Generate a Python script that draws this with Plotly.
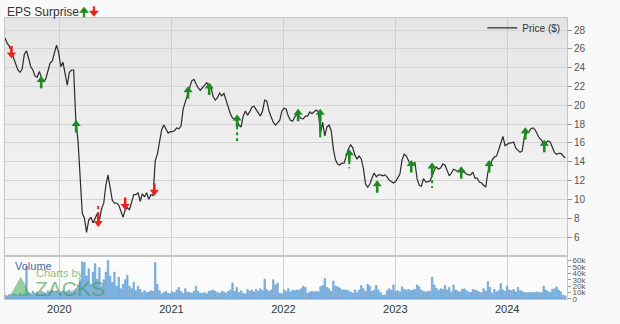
import pandas as pd
import plotly.graph_objects as go

# ---------------- data ----------------
start_date = "2019-07-08"
price = [
 27.15,26.6,26.3,25.7,24.9,24.3,23.75,23.5,23.85,25.4,
 25.8,25.0,24.1,23.75,23.1,23.0,23.6,22.9,22.5,22.8,
 23.75,24.5,24.7,25.7,26.4,25.6,24.1,24.6,23.4,22.15,
 23.5,23.75,23.75,18.4,16.3,11.8,8.55,8.0,6.5,7.8,
 8.1,7.5,8.1,8.5,7.8,9.0,9.6,11.5,12.6,11.2,
 9.9,9.6,9.6,9.4,8.65,8.1,8.9,9.1,8.9,9.7,
 10.5,10.5,10.7,9.8,10.6,10.25,10.7,10.0,10.5,10.4,
 14.1,14.8,16.1,17.4,17.9,17.4,17.05,17.2,17.2,17.3,
 17.6,17.5,17.8,19.6,20.35,21.2,21.95,22.6,22.75,22.3,
 21.85,21.6,21.9,22.15,22.4,22.05,21.9,20.9,20.55,20.8,
 21.3,21.0,21.25,20.55,19.7,19.1,18.65,18.55,18.3,17.9,
 17.7,18.85,19.4,18.95,19.3,19.8,19.9,19.5,19.1,18.85,
 19.4,20.55,20.45,19.4,18.75,18.2,17.9,18.1,18.4,19.4,
 19.7,19.6,18.85,18.4,18.3,18.75,19.05,18.85,18.6,18.55,
 18.85,18.85,19.3,19.1,19.3,19.5,19.3,17.05,18.2,16.75,
 17.7,17.9,17.3,15.35,14.2,13.75,13.65,13.85,13.85,14.7,
 15.35,15.8,15.5,14.7,14.3,14.6,14.3,13.3,11.6,11.3,
 11.6,12.3,12.8,12.4,12.6,12.6,12.5,12.6,12.4,12.05,
 11.85,11.75,11.9,12.25,12.7,14.2,14.8,14.6,14.2,13.65,
 13.8,13.9,12.2,11.5,11.4,12.2,11.85,11.85,11.95,12.6,
 13.1,13.45,13.2,13.35,13.75,13.65,13.0,12.5,12.8,13.2,
 13.1,12.95,12.95,12.9,12.9,12.7,12.6,12.6,12.9,12.25,
 12.25,11.85,11.75,11.5,11.3,12.9,13.45,14.2,14.5,14.6,
 15.25,16.1,16.7,15.7,15.9,16.0,16.0,16.1,15.45,15.25,
 15.0,15.15,16.7,17.05,17.15,17.5,17.6,17.4,16.85,16.5,
 16.3,15.9,16.0,16.2,16.1,15.55,15.0,14.8,14.9,14.9,
 14.7,14.4,
]
volume_k = [
 6,5,7,6,8,7,6,9,7,8,
 50,
 10,8,12,9,11,8,12,10,9,13,11,14,10,12,9,11,13,10,12,14,11,13,16,
 22,30,58,57,36,47,23,42,55,31,49,20,30,42,60,36,26,42,20,34,16,23,30,37,20,16,26,13,20,15,10,13,10,11,13,12,
 57,23,13,8,
 10,12,9,8,11,10,14,18,12,
 9,16,11,10,9,12,
 20,12,9,9,10,8,12,13,14,12,10,9,12,11,9,12,14,25,12,18,10,13,9,8,15,12,14,11,15,12,16,13,31,15,12,14,30,22,25,9,
 8,14,12,16,11,14,13,14,14,16,20,18,9,11,12,11,12,11,19,21,32,18,16,12,28,20,19,17,14,14,14,13,11,9,14,10,14,21,16,12,
 23,20,12,14,21,14,10,6,
 6,13,16,14,22,12,13,11,19,15,14,15,13,14,15,22,19,14,12,11,12,12,34,22,17,13,16,15,21,14,
 18,11,22,14,12,11,15,16,13,11,10,15,14,13,11,10,16,12,27,18,9,15,11,13,24,14,12,20,14,13,
 15,11,18,13,12,10,10,10,10,10,10,11,10,10,20,14,12,10,15,16,19,14,11,6,5,
]
eps_dates = ["2019-07-29", "2019-11-03", "2020-02-25", "2020-05-07", "2020-08-03",
             "2020-11-06", "2021-02-24", "2021-05-04", "2021-08-03", "2022-02-18",
             "2022-05-01", "2022-08-04", "2022-11-03", "2023-02-22", "2023-05-01",
             "2023-08-04", "2023-11-03", "2024-02-29", "2024-05-01"]
eps_levels = [25.6, 22.5, 17.8, 7.7, 9.5, 11.0, 21.4, 21.8, 18.4, 19.0,
              19.0, 14.7, 11.4, 13.55, 13.3, 12.9, 13.55, 17.05, 15.7]
eps_beat = [False, True, True, False, False, False, True, True, True, True,
            True, True, True, True, True, True, True, True, True]
eps_stem_to = [None, None, None, 9.3, None, None, None, None, 16.2, None,
               16.6, 13.3, None, None, 11.2, None, None, None, None]
eps_stem_dash = [None, None, None, "dot", None, None, None, None, "dot", None,
                 "solid", "dot", None, None, "dot", None, None, None, None]
years = ["2020", "2021", "2022", "2023", "2024"]
price_ticks = [6, 8, 10, 12, 14, 16, 18, 20, 22, 24, 26, 28]
vol_ticks_k = [0, 10, 20, 30, 40, 50, 60]

n = min(len(price), len(volume_k))
dates = pd.date_range(start_date, periods=n, freq="7D")
price = price[:n]
volume = [v * 1000 for v in volume_k[:n]]

GREEN = "#1f8a1f"
RED = "#e8231f"
FONT = "Liberation Sans, Arial, sans-serif"

fig = go.Figure()

# volume
fig.add_trace(go.Bar(x=dates, y=volume, xaxis="x2", yaxis="y2",
                     marker=dict(color="#86b9e3", line=dict(color="#4d8ecb", width=0.5)),
                     showlegend=False, name="Volume"))

# price
fig.add_trace(go.Scatter(x=dates, y=price, mode="lines", name="Price ($)",
                         line=dict(color="#2b2b2b", width=1.2), xaxis="x", yaxis="y"))

# EPS stems
for d, lv, to, dash, beat in zip(eps_dates, eps_levels, eps_stem_to, eps_stem_dash, eps_beat):
    if to is None:
        continue
    fig.add_trace(go.Scatter(x=[d, d], y=[lv, to], mode="lines", showlegend=False,
                             hoverinfo="skip",
                             line=dict(color=GREEN if beat else RED, width=2, dash=dash)))

# EPS arrows
up_d = [d for d, b in zip(eps_dates, eps_beat) if b]
up_v = [v for v, b in zip(eps_levels, eps_beat) if b]
dn_d = [d for d, b in zip(eps_dates, eps_beat) if not b]
dn_v = [v for v, b in zip(eps_levels, eps_beat) if not b]
fig.add_trace(go.Scatter(x=up_d, y=[v - 0.25 for v in up_v], mode="markers", showlegend=False,
                         hoverinfo="skip",
                         marker=dict(symbol="line-ns", size=6, line=dict(color=GREEN, width=2.6))))
fig.add_trace(go.Scatter(x=up_d, y=[v + 0.2 for v in up_v], mode="markers", showlegend=False,
                         hoverinfo="skip",
                         marker=dict(symbol="triangle-up", size=8, color=GREEN, line=dict(width=0))))
fig.add_trace(go.Scatter(x=dn_d, y=[v + 0.25 for v in dn_v], mode="markers", showlegend=False,
                         hoverinfo="skip",
                         marker=dict(symbol="line-ns", size=6, line=dict(color=RED, width=2.6))))
fig.add_trace(go.Scatter(x=dn_d, y=[v - 0.2 for v in dn_v], mode="markers", showlegend=False,
                         hoverinfo="skip",
                         marker=dict(symbol="triangle-down", size=8, color=RED, line=dict(width=0))))

# background gradient bands (decoration)
VOL_TOP = 0.153
shapes = []
nb = 24
for i in range(nb):
    y0 = VOL_TOP + (1 - VOL_TOP) * i / nb
    y1 = VOL_TOP + (1 - VOL_TOP) * (i + 1) / nb
    t = (i + 0.5) / nb  # 0 bottom -> 1 top
    c = int(round(247 - 18 * t))
    shapes.append(dict(type="rect", xref="paper", yref="paper", x0=0, x1=1, y0=y0, y1=y1,
                       fillcolor=f"rgb({c},{c},{c})", line=dict(width=0), layer="below"))
shapes.append(dict(type="rect", xref="paper", yref="paper", x0=0, x1=1, y0=0, y1=VOL_TOP,
                   fillcolor="#fbfbfb", line=dict(width=0), layer="below"))
# watermark logo triangle
shapes.append(dict(type="path", xref="paper", yref="paper",
                   path="M 0.009 0.012 L 0.046 0.012 L 0.028 0.08 Z",
                   fillcolor="rgba(70,170,80,0.55)", line=dict(width=0), layer="above"))

year_vals = [f"{y}-01-01" for y in years]
xrange = ["2019-07-08", "2024-07-14"]

fig.update_layout(
    width=620, height=324,
    margin=dict(l=5, r=53, t=18, b=25),
    paper_bgcolor="#f9f9f9", plot_bgcolor="rgba(0,0,0,0)",
    font=dict(family=FONT, size=10, color="#444"),
    bargap=0.3,
    shapes=shapes,
    showlegend=True,
    legend=dict(x=0.997, xanchor="right", y=0.965, yanchor="middle",
                bgcolor="rgba(0,0,0,0)", font=dict(size=10, color="#333"),
                itemwidth=30, borderwidth=0),
    xaxis=dict(domain=[0, 1], anchor="y", range=xrange, tickvals=year_vals,
               showticklabels=False, showgrid=True, gridcolor="#cfcfcf", gridwidth=1,
               showline=True, linecolor="#c4c4c4", mirror=True, zeroline=False, ticks=""),
    yaxis=dict(domain=[VOL_TOP, 1], anchor="x", side="right", range=[3.98, 29.28],
               tickvals=price_ticks, showgrid=True, gridcolor="#d4d4d4",
               ticks="outside", ticklen=4, tickcolor="#999",
               tickfont=dict(size=10, color="#555"),
               showline=True, linecolor="#c4c4c4", mirror=True, zeroline=False),
    xaxis2=dict(domain=[0, 1], anchor="y2", range=xrange, tickvals=year_vals, ticktext=years,
                matches="x", showgrid=True, gridcolor="#cfcfcf",
                tickfont=dict(size=11, color="#333"), ticks="",
                showline=True, linecolor="#c4c4c4", mirror=True, zeroline=False),
    yaxis2=dict(domain=[0, VOL_TOP], anchor="x2", side="right", range=[0, 67000],
                tickvals=[v * 1000 for v in vol_ticks_k],
                ticktext=[("0" if v == 0 else f"{v}k") for v in vol_ticks_k],
                showgrid=False, ticks="outside", ticklen=3, tickcolor="#999",
                tickfont=dict(size=8, color="#555"),
                showline=True, linecolor="#c4c4c4", mirror=True, zeroline=False),
    annotations=[
        dict(xref="paper", yref="paper", x=0, y=1.0, xanchor="left", yanchor="bottom",
             yshift=-3, showarrow=False,
             text=(f"EPS Surprise<span style='font-family:DejaVu Sans;color:{GREEN}'><b>🠉</b></span>"
                   f"<span style='font-family:DejaVu Sans;color:{RED}'><b>🠋</b></span>"),
             font=dict(size=12, color="#333")),
        dict(xref="paper", yref="paper", x=0.014, y=0.118, xanchor="left", yanchor="middle",
             showarrow=False, text="Volume", font=dict(size=11, color="#3d6fa8")),
        dict(xref="paper", yref="paper", x=0.052, y=0.092, xanchor="left", yanchor="middle",
             showarrow=False, text="Charts by", font=dict(size=11, color="rgba(80,165,85,0.7)")),
        dict(xref="paper", yref="paper", x=0.05, y=0.038, xanchor="left", yanchor="middle",
             showarrow=False, text="ZACKS", font=dict(size=21, color="rgba(60,150,70,0.6)")),
    ],
)

fig.write_html("out.html")
